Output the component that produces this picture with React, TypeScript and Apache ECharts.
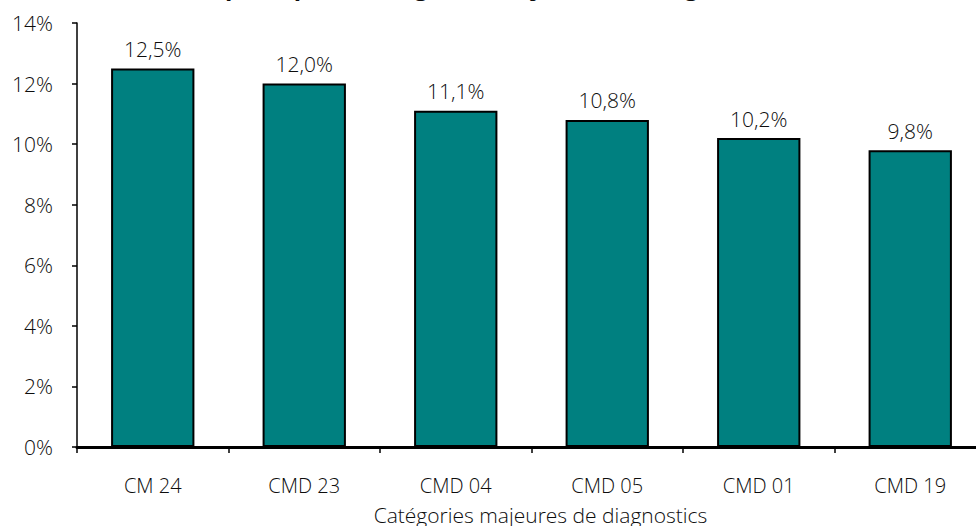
import React, { useEffect, useRef } from "react";
import * as echarts from "echarts";

// Share per major diagnostic category (CMD)
const categories: string[] = ["CM 24", "CMD 23", "CMD 04", "CMD 05", "CMD 01", "CMD 19"];
const shares: number[] = [12.5, 12.0, 11.1, 10.8, 10.2, 9.8];
const yTicks: number[] = [0, 2, 4, 6, 8, 10, 12, 14];

const titleText = "Les principales catégories majeures de diagnostics";
const xAxisName = "Catégories majeures de diagnostics";

const FONT = "'Open Sans', 'Noto Sans', sans-serif";
const TEXT = "#0d0d0d";
const LIGHT = 350;

const fmtPct = (v: number) => `${v.toFixed(1).replace(".", ",")}%`;

export default function App() {
  const ref = useRef<HTMLDivElement>(null);

  useEffect(() => {
    if (!ref.current) return;
    const chart = echarts.init(ref.current, undefined, { renderer: "svg" });
    chart.setOption({
      animation: false,
      backgroundColor: "#ffffff",
      textStyle: { fontFamily: FONT },
      title: {
        text: titleText,
        left: 476,
        textAlign: "center",
        top: -32,
        textStyle: { fontFamily: FONT, fontSize: 24, fontWeight: "bold", color: TEXT },
      },
      grid: { left: 77, right: -10, top: 23, bottom: 79, outerBoundsMode: "none", containLabel: false },
      xAxis: {
        type: "category",
        data: categories,
        name: xAxisName,
        nameLocation: "middle",
        nameGap: 57,
        nameTextStyle: { fontFamily: FONT, fontSize: 21, fontWeight: LIGHT, color: TEXT, padding: [0, 0, 0, 18] },
        axisLine: { lineStyle: { color: "#000", width: 3 } },
        axisTick: { show: true, alignWithLabel: false, interval: 0, length: 6, lineStyle: { color: "#000", width: 1.5 } },
        axisLabel: { interval: 0, margin: 28, fontFamily: FONT, fontSize: 20, fontWeight: LIGHT, color: TEXT },
      },
      yAxis: {
        type: "value",
        min: yTicks[0],
        max: yTicks[yTicks.length - 1],
        interval: yTicks[1] - yTicks[0],
        splitLine: { show: false },
        axisLine: { show: true, lineStyle: { color: "#000", width: 1.5 } },
        axisTick: { show: true, length: 5, lineStyle: { color: "#000", width: 1.5 } },
        axisLabel: {
          margin: 24,
          fontFamily: FONT,
          fontSize: 21,
          fontWeight: LIGHT,
          color: TEXT,
          formatter: (v: number) => `${v}%`,
        },
      },
      series: [
        {
          type: "bar",
          data: shares,
          barCategoryGap: "45%",
          itemStyle: { color: "#008080", borderColor: "#000", borderWidth: 2 },
          label: {
            show: true,
            position: "top",
            distance: 9,
            fontFamily: FONT,
            fontSize: 21,
            fontWeight: LIGHT,
            color: TEXT,
            formatter: (p: any) => fmtPct(p.value as number),
          },
        },
      ],
    });
    return () => chart.dispose();
  }, []);

  return <div ref={ref} style={{ width: 976, height: 526, position: "absolute", left: 0, top: 0 }} />;
}
